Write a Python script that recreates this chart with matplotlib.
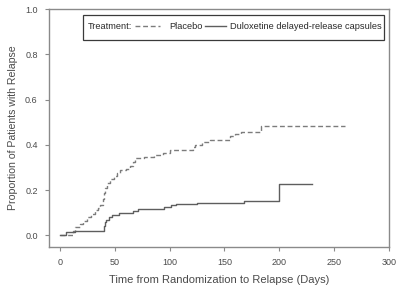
import matplotlib
matplotlib.use('Agg')
import matplotlib.pyplot as plt
from matplotlib.lines import Line2D
from matplotlib.patches import Rectangle

plt.rcParams['font.family'] = ['Liberation Sans', 'DejaVu Sans']

# Kaplan-Meier style step data
placebo_days = [0, 6, 12, 14, 18, 21, 25, 28, 32, 35, 37, 39, 40, 41, 43, 46, 49, 52, 55, 60,
                64, 67, 69, 77, 86, 94, 100, 121, 123, 130, 137, 155, 160, 165, 183, 260]
placebo_prop = [0.0, 0.0, 0.02, 0.035, 0.05, 0.065, 0.08, 0.095, 0.11, 0.12, 0.135, 0.16, 0.185,
                0.21, 0.23, 0.25, 0.262, 0.275, 0.287, 0.295, 0.305, 0.325, 0.342, 0.347, 0.355,
                0.365, 0.378, 0.39, 0.40, 0.412, 0.423, 0.44, 0.448, 0.455, 0.482, 0.482]

dulox_days = [0, 6, 14, 40, 41, 42, 45, 48, 54, 67, 71, 95, 101, 106, 125, 168, 200, 230]
dulox_prop = [0.0, 0.013, 0.021, 0.04, 0.06, 0.07, 0.08, 0.09, 0.10, 0.106, 0.117, 0.125,
              0.135, 0.139, 0.144, 0.152, 0.228, 0.228]

x_ticks = [0, 50, 100, 150, 200, 250, 300]
y_ticks = [0.0, 0.2, 0.4, 0.6, 0.8, 1.0]

text_c = '#4a4a4a'
frame_c = '#8a8a8a'
dash_style = (0, (3.5, 2))
placebo_c = '#7c7c7c'
dulox_c = '#5e5e5e'
leg_fs = 6.7

fig = plt.figure(figsize=(4, 2.94), dpi=100)
ax = fig.add_axes([0.122, 0.161, 0.8505, 0.808])

ax.step(placebo_days, placebo_prop, where='post', color=placebo_c, lw=1.0, linestyle=dash_style)
ax.step(dulox_days, dulox_prop, where='post', color=dulox_c, lw=1.0)

ax.set_xlim(-10, 300)
ax.set_ylim(-0.05, 1.0)
ax.set_xticks(x_ticks)
ax.set_yticks(y_ticks)
ax.set_xticklabels([str(v) for v in x_ticks])
ax.set_yticklabels(['%.1f' % v for v in y_ticks])
ax.tick_params(direction='out', length=3, width=0.8, color=frame_c, labelsize=6.5,
               labelcolor=text_c, pad=5)
for s in ax.spines.values():
    s.set_color(frame_c)
    s.set_linewidth(1.0)

ax.set_xlabel('Time from Randomization to Relapse (Days)', fontsize=8.0, color=text_c, labelpad=6)
ax.set_ylabel('Proportion of Patients with Relapse', fontsize=7.6, color=text_c, labelpad=5)

# legend box: "Treatment:" followed by the two line samples on one row
leg_y = 0.9276
ax.add_patch(Rectangle((0.1008, 0.8687), 0.8854, 0.1052, transform=ax.transAxes,
                       fill=False, edgecolor='#3a3a3a', lw=0.9, zorder=3))
ax.text(0.1134, leg_y, 'Treatment:', transform=ax.transAxes, fontsize=leg_fs,
        color='#2a2a2a', va='center', ha='left')
ax.add_line(Line2D([0.2527, 0.3262], [leg_y, leg_y], transform=ax.transAxes,
                   color=placebo_c, lw=1.0, linestyle=dash_style))
ax.text(0.3526, leg_y, 'Placebo', transform=ax.transAxes, fontsize=leg_fs,
        color='#2a2a2a', va='center', ha='left')
ax.add_line(Line2D([0.4584, 0.5219], [leg_y, leg_y], transform=ax.transAxes,
                   color=dulox_c, lw=1.0))
ax.text(0.5319, leg_y, 'Duloxetine delayed-release capsules', transform=ax.transAxes,
        fontsize=leg_fs, color='#2a2a2a', va='center', ha='left')

fig.savefig('out.png', dpi=100)
